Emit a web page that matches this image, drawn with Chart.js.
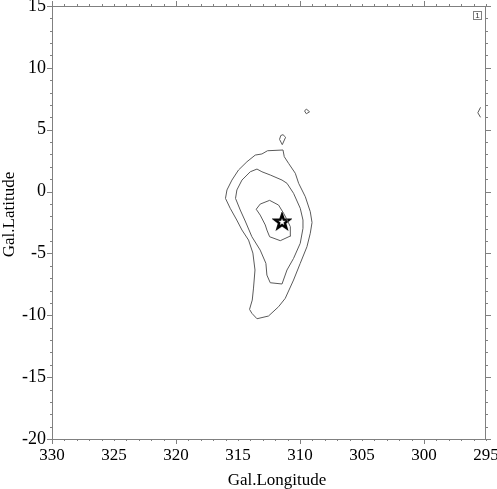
<!DOCTYPE html>
<html>
<head>
<meta charset="utf-8">
<style>
  html, body { margin: 0; padding: 0; background: #fff; }
  canvas { display: block; }
</style>
<script src="https://cdn.jsdelivr.net/npm/chart.js@4"></script>
</head>
<body>
<canvas id="chart" width="497" height="489"></canvas>
<script>
// Contour levels (galactic longitude / latitude, degrees)
const outerLon = [311.37, 312.62, 313.07, 313.61, 314.28, 314.96, 315.49, 315.89, 316.01, 315.63, 315.10, 314.68, 314.15, 313.80, 313.63, 313.75, 313.85, 314.07, 313.88, 313.47, 312.54, 311.73, 311.19, 310.52, 309.98, 309.44, 309.17, 309.03, 309.17, 309.57, 310.11, 310.38, 310.92, 311.27, 311.37];
const outerLat = [3.36, 3.30, 3.04, 2.95, 2.41, 1.74, 0.93, 0.13, -0.55, -1.35, -2.30, -3.11, -3.92, -4.97, -6.34, -7.80, -8.77, -9.52, -9.84, -10.28, -10.06, -9.31, -8.63, -7.15, -5.80, -4.46, -3.37, -2.50, -1.63, -0.42, 0.67, 1.48, 2.28, 2.82, 3.36];

const middleLon = [313.47, 314.01, 314.68, 315.09, 315.20, 314.82, 314.42, 313.88, 313.21, 312.75, 312.67, 312.40, 311.45, 311.05, 310.52, 309.98, 309.76, 309.76, 309.98, 310.52, 311.05, 311.45, 312.40, 313.07, 313.47];
const middleLat = [1.82, 1.60, 0.93, 0.13, -0.55, -1.49, -2.38, -3.65, -4.73, -5.80, -6.75, -7.37, -7.47, -6.34, -5.40, -4.18, -2.97, -2.30, -1.35, -0.14, 0.67, 0.93, 1.34, 1.60, 1.82];

const innerLon = [312.45, 313.21, 313.53, 313.21, 312.80, 312.67, 312.45, 311.59, 310.73, 310.78, 311.03, 311.32, 311.73, 312.45];
const innerLat = [-0.71, -1.01, -1.43, -1.90, -2.70, -3.11, -3.65, -3.97, -3.57, -2.84, -2.30, -1.76, -1.09, -0.71];

const blobLon = [311.37, 311.16, 311.43, 311.65, 311.55, 311.37];
const blobLat = [4.60, 4.39, 3.79, 4.22, 4.53, 4.60];

const spotLon = [309.63, 309.49, 309.23, 309.49, 309.63];
const spotLat = [6.51, 6.67, 6.45, 6.29, 6.51];

const edgeLon = [295.44, 295.66, 295.44];
const edgeLat = [6.81, 6.37, 6.00];

const starLon = [311.45];
const starLat = [-2.46];

const lonRange = [295, 330];
const latRange = [-20, 15];
const panelLabel = '1';

const AXIS_COLOR = '#808080';
const LINE_COLOR = '#5a5a5a';
const SERIF = '"Liberation Serif", "Times New Roman", serif';

function toPoints(lons, lats) {
    return lons.map((lon, i) => ({ x: lon, y: lats[i] }));
}

function contour(lons, lats) {
    return {
        data: toPoints(lons, lats),
        showLine: true,
        borderColor: LINE_COLOR,
        borderWidth: 1,
        pointRadius: 0,
        tension: 0,
        fill: false
    };
}

// Five pointed outline star for the source position
function makeStar() {
    const c = document.createElement('canvas');
    c.width = 20;
    c.height = 20;
    const g = c.getContext('2d');
    g.beginPath();
    for (let i = 0; i < 10; i++) {
        const r = i % 2 === 0 ? 7.5 : 3;
        const a = -Math.PI / 2 + i * Math.PI / 5;
        const px = 10 + r * Math.cos(a);
        const py = 10 + r * Math.sin(a);
        if (i === 0) g.moveTo(px, py); else g.lineTo(px, py);
    }
    g.closePath();
    g.lineWidth = 2.4;
    g.strokeStyle = '#000';
    g.stroke();
    return c;
}

// Tick labels may hang past the frame, so the scales ask for no extra room
function noPadding(scale) {
    scale.getPadding = () => ({ left: 0, top: 0, right: 0, bottom: 0 });
}

// Axis titles sit off centre in the original
function shiftTitle(scale, dx, dy) {
    if (scale.titleShifted) return;
    scale.titleShifted = true;
    const drawTitle = scale.drawTitle.bind(scale);
    scale.drawTitle = () => {
        scale.ctx.save();
        scale.ctx.translate(dx, dy);
        drawTitle();
        scale.ctx.restore();
    };
}

// Outward ticks on all four sides, long ones every 10 deg in longitude, 5 in latitude
const frameTicks = {
    id: 'frameTicks',
    afterLayout(chart) {
        shiftTitle(chart.scales.x, 8, 2);
        shiftTitle(chart.scales.y, -1, -8);
    },
    afterDraw(chart) {
        const ctx = chart.ctx;
        const { left, right, top, bottom } = chart.chartArea;
        const xs = chart.scales.x;
        const ys = chart.scales.y;
        ctx.save();
        ctx.strokeStyle = AXIS_COLOR;
        ctx.lineWidth = 1;
        ctx.beginPath();
        ctx.moveTo(left, top + 0.5);
        ctx.lineTo(right, top + 0.5);
        ctx.moveTo(right - 0.5, top);
        ctx.lineTo(right - 0.5, bottom);
        for (let v = lonRange[0]; v <= lonRange[1]; v++) {
            const px = Math.round(xs.getPixelForValue(v)) + 0.5;
            const len = v % 10 === 0 ? 5 : 2;
            ctx.moveTo(px, bottom);
            ctx.lineTo(px, bottom + len);
            ctx.moveTo(px, top);
            ctx.lineTo(px, top - len);
        }
        for (let v = latRange[0]; v <= latRange[1]; v++) {
            const py = Math.round(ys.getPixelForValue(v)) + 0.5;
            const len = v % 5 === 0 ? 5 : 2;
            ctx.moveTo(left, py);
            ctx.lineTo(left - len, py);
            ctx.moveTo(right, py);
            ctx.lineTo(right + len, py);
        }
        ctx.stroke();

        // small panel number box
        ctx.strokeRect(473.5, 11.5, 8, 8);
        ctx.fillStyle = '#333';
        ctx.font = '8px "Liberation Sans", sans-serif';
        ctx.textAlign = 'center';
        ctx.textBaseline = 'middle';
        ctx.fillText(panelLabel, 477.5, 15.5);
        ctx.restore();
    }
};

new Chart(document.getElementById('chart'), {
    type: 'scatter',
    data: {
        datasets: [
            contour(outerLon, outerLat),
            contour(middleLon, middleLat),
            contour(innerLon, innerLat),
            contour(blobLon, blobLat),
            contour(spotLon, spotLat),
            contour(edgeLon, edgeLat),
            {
                data: toPoints(starLon, starLat),
                pointStyle: makeStar(),
                pointRadius: 10,
                showLine: false
            }
        ]
    },
    options: {
        responsive: false,
        animation: false,
        // the star marker would otherwise push the frame down
        layout: { autoPadding: false, padding: { top: 6, right: 11, left: 0, bottom: 0 } },
        plugins: { legend: { display: false }, tooltip: { enabled: false } },
        scales: {
            x: {
                type: 'linear',
                reverse: true,
                min: lonRange[0],
                max: lonRange[1],
                beforeFit: noPadding,
                afterFit(scale) {
                    scale.height = 50;
                },
                afterBuildTicks(scale) {
                    scale.ticks = [];
                    for (let v = lonRange[0]; v <= lonRange[1]; v += 5) scale.ticks.push({ value: v });
                },
                grid: { display: false, drawTicks: false },
                border: { display: true, color: AXIS_COLOR, width: 1 },
                ticks: {
                    autoSkip: false,
                    maxRotation: 0,
                    padding: 6,
                    color: '#000',
                    font: { family: SERIF, size: 17 },
                    callback: v => String(v)
                },
                title: {
                    display: true,
                    text: 'Gal.Longitude',
                    color: '#000',
                    padding: { top: 6, bottom: 0 },
                    font: { family: SERIF, size: 17 }
                }
            },
            y: {
                type: 'linear',
                min: latRange[0],
                max: latRange[1],
                beforeFit: noPadding,
                afterFit(scale) {
                    scale.width = 52;
                },
                afterBuildTicks(scale) {
                    scale.ticks = [];
                    for (let v = latRange[0]; v <= latRange[1]; v += 5) scale.ticks.push({ value: v });
                },
                grid: { display: false, drawTicks: false },
                border: { display: true, color: AXIS_COLOR, width: 1 },
                ticks: {
                    autoSkip: false,
                    padding: 6,
                    color: '#000',
                    font: { family: SERIF, size: 18 },
                    callback: v => String(v)
                },
                title: {
                    display: true,
                    text: 'Gal.Latitude',
                    color: '#000',
                    padding: { top: 0, bottom: 0 },
                    font: { family: SERIF, size: 17 }
                }
            }
        }
    },
    plugins: [frameTicks]
});
</script>
</body>
</html>
